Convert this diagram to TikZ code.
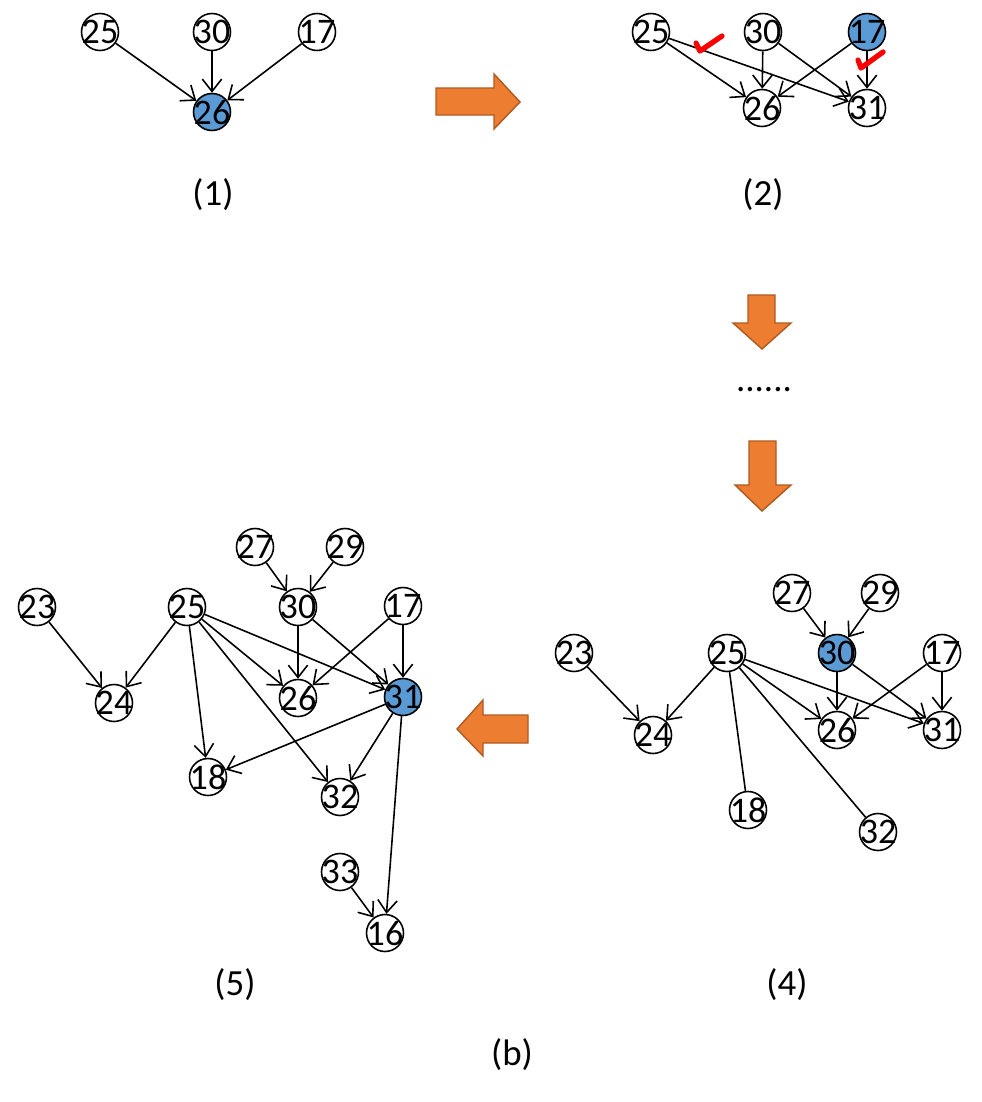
\documentclass[tikz,border=0pt]{standalone}
\usepackage{fontspec}
\setmainfont{Carlito}
\usetikzlibrary{arrows.meta,positioning}
\definecolor{selblue}{RGB}{91,155,213}
\definecolor{boxorange}{RGB}{237,125,49}
\definecolor{boxedge}{RGB}{174,90,33}

\begin{document}
\begin{tikzpicture}[x=0.02cm,y=-0.02cm,
  >={Straight Barb[length=7pt,width=11pt]},
  nd/.style={circle,draw,line width=0.9pt,minimum size=0.74cm,inner sep=-2.2pt,font=\fontsize{20.5}{22}\selectfont},
  sel/.style={nd,fill=selblue},
  edge/.style={->,line width=0.9pt},
  fat/.style={fill=boxorange,draw=boxedge,line width=0.8pt},
  tag/.style={font=\fontsize{21}{24}\selectfont},
  tick/.style={red,line width=3pt,line cap=round,line join=round}]
\useasboundingbox (0,0) rectangle (981,1102);

% Panel (1)
\node[nd] (a25) at (100,32) {25};
\node[nd] (a30) at (212,32) {30};
\node[nd] (a17) at (317,32) {17};
\node[sel] (a26) at (212,112) {26};
\foreach \s in {25,30,17}
    \draw[edge] (a\s) -- (a26);
\node[tag] (t1) at (213,195) {(1)};

% Panel (2)
\node[nd] (b25) at (651,32) {25};
\node[nd] (b30) at (763,32) {30};
\node[sel] (b17) at (867,32) {17};
\node[nd] (b26) at (762,108) {26};
\node[nd] (b31) at (867,108) {31};
\foreach \s/\t in {25/26,25/31,30/26,30/31,17/26,17/31}
    \draw[edge] (b\s) -- (b\t);
\draw[tick] (696,43) -- (700,51) -- (722,36);
\draw[tick] (858,60) -- (861,68) -- (883,52);
\node[tag] (t2) at (763,195) {(2)};

% Orange arrows
\draw[fat] (436,88) -- (494,88) -- (494,74) -- (520,102) -- (494,129) -- (494,115) -- (436,115) -- cycle;
\draw[fat] (748,295) -- (775,295) -- (775,323) -- (791,323) -- (762,349) -- (733,323) -- (748,323) -- cycle;
\node[tag,anchor=base] (dots) at (764,391) {......};
\draw[fat] (749,441) -- (776,441) -- (776,485) -- (791,485) -- (762,511) -- (735,485) -- (749,485) -- cycle;
\draw[fat] (528,715) -- (483,715) -- (483,700) -- (457,729) -- (483,756) -- (483,743) -- (528,743) -- cycle;

% Panel (4)
\node[nd] (d27) at (792,593) {27};
\node[nd] (d29) at (880,593) {29};
\node[nd] (d23) at (574,653) {23};
\node[nd] (d25) at (727,653) {25};
\node[sel] (d30) at (837,653) {30};
\node[nd] (d17) at (942,653) {17};
\node[nd] (d24) at (653,735) {24};
\node[nd] (d26) at (837,730) {26};
\node[nd] (d31) at (942,730) {31};
\node[nd] (d18) at (748,810) {18};
\node[nd] (d32) at (878,832) {32};
\foreach \s/\t in {27/30,29/30,23/24,25/24,25/26,25/31,30/26,30/31,17/26,17/31}
    \draw[edge] (d\s) -- (d\t);
\draw[line width=0.9pt] (d25) -- (d18);
\draw[line width=0.9pt] (d25) -- (d32);
\node[tag] (t4) at (787,985) {(4)};

% Panel (5)
\node[nd] (e27) at (255,547) {27};
\node[nd] (e29) at (345,547) {29};
\node[nd] (e23) at (37,607) {23};
\node[nd] (e25) at (187,607) {25};
\node[nd] (e30) at (298,607) {30};
\node[nd] (e17) at (403,606) {17};
\node[nd] (e24) at (114,703) {24};
\node[nd] (e26) at (298,698) {26};
\node[sel] (e31) at (403,697) {31};
\node[nd] (e18) at (208,777) {18};
\node[nd] (e32) at (340,797) {32};
\node[nd] (e33) at (340,872) {33};
\node[nd] (e16) at (385,933) {16};
\foreach \s/\t in {27/30,29/30,23/24,25/24,25/18,25/26,25/31,25/32,30/26,30/31,17/26,17/31,31/18,31/32,31/16,33/16}
    \draw[edge] (e\s) -- (e\t);
\node[tag] (t5) at (235,985) {(5)};

\node[tag] (tb) at (512,1055) {(b)};
\end{tikzpicture}
\end{document}
